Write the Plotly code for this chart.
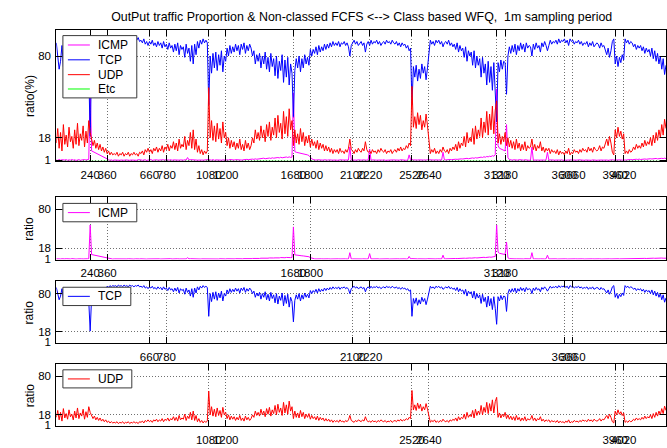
import plotly.graph_objects as go

# ---------------- data (10-minute samples) ----------------
minutes = list(range(0, 4321, 10))

# one row per hour: values at :00 :10 :20 :30 :40 :50
udp = [
    14, 25, 10, 22, 8, 28,   13, 20, 11, 26, 15, 19,   10, 24, 13, 29, 12, 21,
    16, 27, 11, 23, 14, 31,  22, 18, 12, 16, 10, 14,   9, 13, 8, 11, 7, 10,
    6, 8, 5, 7, 5, 6,        5, 7, 4, 6, 5, 7,         4, 6, 5, 7, 4, 6,
    5, 7, 5, 6, 4, 7,        6, 8, 5, 9, 7, 10,        7, 9, 6, 10, 8, 11,
    7, 10, 8, 12, 7, 11,     9, 13, 8, 12, 10, 15,     9, 14, 8, 17, 10, 13,
    11, 19, 9, 16, 12, 22,   10, 24, 9, 17, 7, 12,     6, 9, 5, 8, 6, 8,
    56, 18, 31, 16, 27, 15,  29, 17, 25, 14, 30, 18,   22, 12, 18, 10, 16, 11,
    15, 9, 14, 10, 17, 9,    13, 8, 16, 10, 14, 9,     12, 18, 14, 24, 17, 22,
    16, 27, 18, 24, 15, 28,  19, 30, 16, 26, 20, 33,   18, 35, 22, 29, 17, 38,
    21, 34, 19, 40, 24, 31,  12, 24, 14, 21, 13, 25,   15, 22, 12, 19, 14, 20,
    11, 17, 12, 15, 10, 16,  9, 14, 10, 13, 8, 12,     8, 11, 7, 10, 6, 9,
    7, 9, 6, 10, 7, 8,       6, 9, 7, 10, 17, 9,       8, 6, 9, 7, 10, 8,
    7, 10, 8, 15, 9, 7,      8, 6, 9, 7, 8, 6,         9, 7, 10, 8, 7, 9,
    6, 8, 7, 9, 6, 8,        9, 7, 10, 8, 11, 8,       10, 9, 12, 10, 14, 12,
    57, 26, 34, 25, 37, 28,  35, 24, 31, 26, 36, 27,   18, 6, 9, 7, 10, 6,
    8, 6, 9, 7, 11, 8,       7, 9, 6, 10, 8, 11,       9, 13, 8, 15, 10, 14,
    12, 19, 11, 22, 14, 18,  15, 25, 13, 27, 17, 24,   19, 33, 18, 30, 22, 38,
    20, 36, 24, 42, 21, 39,  46, 14, 21, 13, 19, 15,   22, 12, 18, 11, 16, 10,
    15, 9, 17, 10, 14, 8,    13, 9, 15, 8, 12, 10,     11, 17, 9, 13, 8, 12,
    10, 15, 8, 11, 7, 10,    8, 10, 6, 9, 7, 8,        6, 9, 5, 8, 6, 7,
    5, 8, 6, 10, 5, 7,       6, 9, 7, 8, 6, 9,         7, 10, 8, 9, 7, 11,
    8, 10, 7, 11, 9, 8,      9, 12, 8, 11, 10, 13,     17, 12, 19, 14, 7, 5,
    24, 18, 26, 19, 23, 17,  21, 6, 8, 6, 9, 7,        8, 11, 9, 13, 10, 12,
    10, 14, 11, 16, 12, 15,  13, 18, 12, 20, 14, 22,   16, 24, 18, 28, 20, 32,
    25,
]

tcp = [
    90, 78, 70, 76, 88, 72,  85, 78, 87, 72, 83, 79,   88, 74, 85, 69, 86, 77,
    82, 71, 87, 75, 84, 67,  19, 74, 80, 77, 83, 79,   85, 82, 87, 84, 89, 86,
    92, 90, 93, 91, 93, 92,  93, 91, 94, 92, 93, 91,   94, 92, 93, 91, 94, 92,
    93, 91, 93, 92, 94, 91,  92, 90, 93, 89, 91, 88,   91, 89, 92, 88, 90, 87,
    91, 88, 90, 86, 91, 87,  89, 85, 90, 86, 88, 83,   89, 84, 90, 81, 88, 85,
    87, 79, 89, 82, 86, 76,  88, 74, 89, 81, 91, 86,   92, 89, 93, 90, 92, 90,
    43, 80, 67, 82, 71, 83,  69, 81, 73, 84, 68, 80,   76, 86, 80, 88, 82, 87,
    83, 89, 84, 88, 81, 89,  85, 90, 82, 88, 84, 89,   86, 80, 84, 74, 81, 76,
    82, 71, 80, 74, 83, 70,  79, 68, 82, 72, 78, 65,   80, 63, 76, 69, 81, 60,
    77, 64, 79, 58, 74, 67,  34, 69, 78, 71, 80, 68,   78, 71, 81, 74, 79, 73,
    85, 80, 85, 82, 87, 81,  88, 83, 87, 84, 89, 85,   89, 86, 90, 87, 91, 88,
    90, 88, 91, 87, 90, 89,  91, 88, 90, 87, 80, 88,   90, 92, 89, 91, 88, 90,
    91, 88, 90, 83, 89, 91,  88, 92, 89, 91, 90, 92,   89, 91, 88, 90, 91, 89,
    92, 90, 91, 89, 92, 90,  89, 91, 88, 90, 87, 90,   88, 89, 86, 88, 84, 86,
    43, 72, 64, 73, 61, 70,  63, 74, 67, 72, 62, 71,   80, 92, 89, 91, 88, 92,
    90, 92, 89, 91, 87, 90,  91, 89, 92, 88, 90, 87,   89, 85, 90, 83, 88, 84,
    86, 79, 87, 76, 84, 80,  83, 73, 84, 71, 80, 73,   78, 64, 79, 67, 74, 58,
    76, 60, 72, 54, 75, 56,  30, 75, 68, 77, 70, 76,   75, 51, 80, 87, 82, 88,
    83, 89, 81, 88, 84, 90,  85, 89, 83, 90, 86, 88,   87, 80, 89, 85, 90, 86,
    88, 83, 90, 87, 91, 88,  84, 88, 92, 89, 91, 90,   92, 89, 93, 90, 92, 91,
    93, 90, 92, 88, 93, 91,  92, 89, 91, 90, 92, 89,   91, 88, 90, 89, 91, 87,
    90, 88, 91, 87, 89, 90,  89, 86, 90, 87, 88, 85,   81, 86, 79, 84, 91, 93,
    74, 80, 72, 79, 75, 81,  77, 93, 90, 92, 89, 91,   90, 87, 89, 85, 88, 86,
    88, 84, 87, 82, 86, 83,  85, 80, 86, 78, 84, 76,   82, 74, 80, 70, 78, 66,
    73,
]

icmp = [
    1.2, 0.8, 1.5, 1.0, 1.3, 0.9,  1.1, 1.4, 0.9, 1.2, 1.0, 1.5,  1.0, 1.3, 0.8, 1.1, 1.4, 0.9,
    1.2, 1.0, 1.5, 1.1, 1.3, 1.6,  55, 8, 7.5, 7, 6.5, 6,         5.5, 5, 4.5, 4, 3.5, 3,
    2.0, 1.3, 0.9, 1.2, 0.8, 1.1,  1.0, 0.8, 1.2, 0.9, 1.1, 0.8,  0.9, 1.2, 1.0, 1.3, 0.9, 1.1,
    1.0, 0.8, 1.2, 0.9, 1.4, 1.0,  1.2, 0.9, 1.1, 1.3, 0.8, 1.0,  1.1, 1.5, 0.9, 1.2, 1.0, 1.3,
    1.0, 1.2, 0.9, 1.1, 1.3, 1.0,  1.5, 1.2, 1.0, 1.4, 0.9, 1.2,  1.1, 0.9, 1.3, 1.0, 1.2, 0.8,
    1.0, 1.3, 1.1, 3.0, 1.2, 1.4,  1.2, 1.0, 1.3, 1.1, 1.0, 1.2,  0.9, 1.1, 1.0, 1.2, 0.9, 1.1,
    1.5, 1.2, 1.0, 1.4, 0.9, 1.2,  1.1, 0.9, 1.3, 1.0, 1.2, 0.8,  1.0, 1.3, 1.1, 1.5, 1.2, 1.4,
    1.1, 1.4, 1.2, 1.0, 1.3, 1.1,  1.2, 1.5, 1.3, 1.6, 1.4, 1.7,  1.5, 1.8, 1.6, 2.0, 1.7, 1.9,
    1.8, 2.2, 2.0, 2.5, 2.1, 2.4,  2.2, 2.6, 2.3, 2.8, 2.5, 2.7,  2.5, 3.0, 2.7, 3.2, 2.8, 3.1,
    2.9, 3.4, 3.0, 3.5, 3.1, 3.3,  52, 7.5, 7, 6.8, 6.5, 6.2,     6, 5.8, 5.5, 5.2, 5, 4.5,
    3, 2, 1.5, 1.2, 1.0, 1.3,      1.1, 0.9, 1.2, 1.0, 1.3, 0.9,  1.0, 1.2, 0.9, 1.1, 1.0, 1.2,
    1.1, 0.9, 1.2, 1.0, 1.3, 1.1,  1.0, 1.2, 0.9, 1.1, 11, 1.0,   1.1, 0.9, 1.2, 1.0, 1.3, 0.9,
    1.0, 1.2, 0.9, 1.1, 1.0, 1.2,  9.5, 1.0, 1.2, 0.9, 1.1, 1.0,  1.2, 0.9, 1.1, 1.0, 1.3, 0.9,
    1.0, 1.2, 0.9, 1.1, 1.0, 1.2,  1.1, 0.9, 1.2, 1.0, 1.3, 1.1,  1.0, 1.2, 0.9, 1.1, 5, 1.2,
    1.5, 1.2, 1.0, 1.3, 1.1, 1.2,  1.0, 1.3, 1.1, 1.2, 1.0, 1.4,  1.2, 1.0, 1.3, 1.1, 1.2, 1.0,
    1.3, 1.1, 1.2, 1.0, 7, 1.2,    1.2, 1.4, 1.3, 1.5, 1.4, 1.6,  1.5, 1.7, 1.6, 1.9, 1.7, 2.0,
    1.9, 2.2, 2.0, 2.4, 2.1, 2.5,  2.3, 2.7, 2.4, 2.9, 2.6, 3.0,  2.8, 3.3, 3.0, 3.6, 3.2, 3.8,
    3.5, 4.0, 3.7, 4.4, 4.0, 5.0,  55, 12, 10, 9.5, 9, 8.5,       8, 28, 3, 1.5, 1.2, 1.0,
    1.3, 1.1, 1.2, 1.0, 1.4, 1.1,  1.2, 1.0, 1.3, 1.1, 1.2, 0.9,  1.1, 11, 1.0, 1.2, 0.9, 1.1,
    1.0, 1.2, 0.9, 1.1, 1.0, 1.2,  7, 1.0, 1.2, 0.9, 1.1, 1.0,    1.2, 0.9, 1.1, 1.0, 1.3, 0.9,
    1.0, 1.2, 0.9, 1.1, 1.0, 1.2,  1.1, 0.9, 1.2, 1.0, 1.3, 1.1,  1.0, 1.2, 0.9, 1.1, 1.0, 1.2,
    1.1, 0.9, 1.2, 1.0, 1.3, 0.9,  1.0, 1.2, 0.9, 1.1, 1.0, 1.2,  1.1, 0.9, 1.2, 1.0, 1.3, 1.1,
    1.2, 1.0, 1.3, 1.1, 1.2, 1.0,  1.3, 1.1, 1.2, 1.4, 1.2, 1.5,  1.3, 1.6, 1.4, 1.7, 1.5, 1.8,
    1.5, 1.8, 1.6, 1.9, 1.7, 2.0,  1.8, 2.1, 1.9, 2.2, 2.0, 2.3,  2.0, 2.3, 2.1, 2.4, 2.2, 2.5,
    2.2,
]

etc_minutes = list(range(0, 4321, 60))
etc = [
    0.2, 0.1, 0.2, 0.1, 0.2, 0.1, 0.2, 0.1, 0.2, 0.1, 0.2, 0.1,
    0.2, 0.1, 0.2, 0.1, 0.2, 0.1, 0.2, 0.1, 0.2, 0.1, 0.2, 0.1,
    0.2, 0.1, 0.2, 0.1, 0.2, 0.1, 0.2, 0.1, 0.2, 0.1, 0.2, 0.1,
    0.2, 0.1, 0.2, 0.1, 0.2, 0.1, 0.2, 0.1, 0.2, 0.1, 0.2, 0.1,
    0.2, 0.1, 0.2, 0.1, 0.2, 0.1, 0.2, 0.1, 0.2, 0.1, 0.2, 0.1,
    0.2, 0.1, 0.2, 0.1, 0.2, 0.1, 0.2, 0.1, 0.2, 0.1, 0.2, 0.1, 0.2,
]

ticks_all = [240, 360, 660, 780, 1080, 1200, 1680, 1800, 2100, 2220,
             2520, 2640, 3120, 3180, 3600, 3660, 3960, 4020]
ticks_icmp = [240, 360, 1680, 1800, 3120, 3180]
ticks_tcp = [660, 780, 2100, 2220, 3600, 3660]
ticks_udp = [1080, 1200, 2520, 2640, 3960, 4020]
yticks = [1, 18, 80]

title_text = "OutPut traffic Proportion & Non-classed FCFS <--> Class based WFQ,  1m sampling period"

C_ICMP, C_TCP, C_UDP, C_ETC = "#ff00ff", "#0000ff", "#ff0000", "#00ff00"

# ---------------- geometry (pixels of a 667 x 448 page) ----------------
W, H = 667, 448
FONT = "Liberation Sans, Arial, Helvetica, sans-serif"
TICK_SIZE = 11.5


def px(x):
    return x / W


def py(y):
    return 1 - y / H


X0, X1 = 56.4, 667.0
panels = [  # (top px, bottom px)
    (30.0, 163.3),
    (199.0, 262.5),
    (284.5, 346.6),
    (367.7, 430.9),
]

fig = go.Figure()

LW = 1.0
fig.add_trace(go.Scatter(x=etc_minutes, y=etc, mode="lines", line=dict(color=C_ETC, width=LW),
                         xaxis="x", yaxis="y", showlegend=False))
fig.add_trace(go.Scatter(x=minutes, y=icmp, mode="lines", line=dict(color=C_ICMP, width=LW),
                         xaxis="x", yaxis="y", showlegend=False))
fig.add_trace(go.Scatter(x=minutes, y=tcp, mode="lines", line=dict(color=C_TCP, width=LW),
                         xaxis="x", yaxis="y", showlegend=False))
fig.add_trace(go.Scatter(x=minutes, y=udp, mode="lines", line=dict(color=C_UDP, width=LW),
                         xaxis="x", yaxis="y", showlegend=False))
fig.add_trace(go.Scatter(x=minutes, y=icmp, mode="lines", line=dict(color=C_ICMP, width=LW),
                         xaxis="x2", yaxis="y2", showlegend=False))
fig.add_trace(go.Scatter(x=minutes, y=tcp, mode="lines", line=dict(color=C_TCP, width=LW),
                         xaxis="x3", yaxis="y3", showlegend=False))
fig.add_trace(go.Scatter(x=minutes, y=udp, mode="lines", line=dict(color=C_UDP, width=LW),
                         xaxis="x4", yaxis="y4", showlegend=False))

tickfont = dict(family=FONT, size=TICK_SIZE, color="black")


def xaxis(ticks, anchor):
    return dict(domain=[px(X0), px(X1)], range=[0, 4320], tickvals=ticks,
                ticktext=[str(t) for t in ticks], ticks="inside", ticklen=6,
                tickcolor="black", tickwidth=1, showline=True, linecolor="black",
                linewidth=1, mirror="ticks", showgrid=True, gridcolor="#6f6f6f",
                griddash="1px,2px", gridwidth=1, zeroline=False, tickfont=tickfont,
                tickangle=0, ticklabelstandoff=3, anchor=anchor, fixedrange=True)


def yaxis(anchor, top, bottom):
    return dict(domain=[py(bottom), py(top)], range=[0, 100], tickvals=yticks,
                ticktext=[str(t) for t in yticks], ticks="inside", ticklen=6,
                tickcolor="black", tickwidth=1, showline=True, linecolor="black",
                linewidth=1, mirror="ticks", showgrid=True, gridcolor="#6f6f6f",
                griddash="1px,2px", gridwidth=1, zeroline=False, tickfont=tickfont,
                anchor=anchor, fixedrange=True, ticklabelstandoff=2)


layout = dict(
    width=W, height=H, margin=dict(l=0, r=0, t=0, b=0),
    paper_bgcolor="white", plot_bgcolor="white", showlegend=False,
    font=dict(family=FONT, size=12, color="black"),
    title=dict(text=title_text, x=px((X0 + X1) / 2), xanchor="center", xref="container",
               y=py(16.5), yanchor="middle", yref="container",
               font=dict(family=FONT, size=12.4, color="black")),
)
tick_sets = [ticks_all, ticks_icmp, ticks_tcp, ticks_udp]
for i, (top, bottom) in enumerate(panels):
    sfx = "" if i == 0 else str(i + 1)
    layout["xaxis" + sfx] = xaxis(tick_sets[i], "y" + sfx)
    layout["yaxis" + sfx] = yaxis("x" + sfx, top, bottom)
fig.update_layout(**layout)

# ---------------- y-axis labels ----------------
ylabels = ["ratio(%)", "ratio", "ratio", "ratio"]
for (top, bottom), lab in zip(panels, ylabels):
    fig.add_annotation(text=lab, x=px(29.5), y=py((top + bottom) / 2), xref="paper", yref="paper",
                       textangle=-90, showarrow=False, xanchor="center", yanchor="middle",
                       font=dict(family=FONT, size=12, color="black"))


# ---------------- legends ----------------
def legend_box(x0, x1, y0, y1, entries):
    fig.add_shape(type="rect", xref="paper", yref="paper", x0=px(x0), x1=px(x1),
                  y0=py(y1), y1=py(y0), fillcolor="white",
                  line=dict(color="#3a3a3a", width=1), layer="above")
    for name, color, yc in entries:
        fig.add_shape(type="line", xref="paper", yref="paper", x0=px(68), x1=px(90),
                      y0=py(yc), y1=py(yc), line=dict(color=color, width=1), layer="above")
        fig.add_annotation(text=name, x=px(96), y=py(yc), xref="paper", yref="paper",
                           showarrow=False, xanchor="left", yanchor="middle",
                           font=dict(family=FONT, size=12, color="black"))


legend_box(63, 137, 36, 99, [("ICMP", C_ICMP, 45.5), ("TCP", C_TCP, 60.5),
                              ("UDP", C_UDP, 75.5), ("Etc", C_ETC, 90.0)])
legend_box(63, 137, 205.7, 224.3, [("ICMP", C_ICMP, 215.0)])
legend_box(63, 131, 290.5, 309.0, [("TCP", C_TCP, 299.7)])
legend_box(63, 132, 374.0, 392.3, [("UDP", C_UDP, 383.2)])

fig.write_html("out.html")
